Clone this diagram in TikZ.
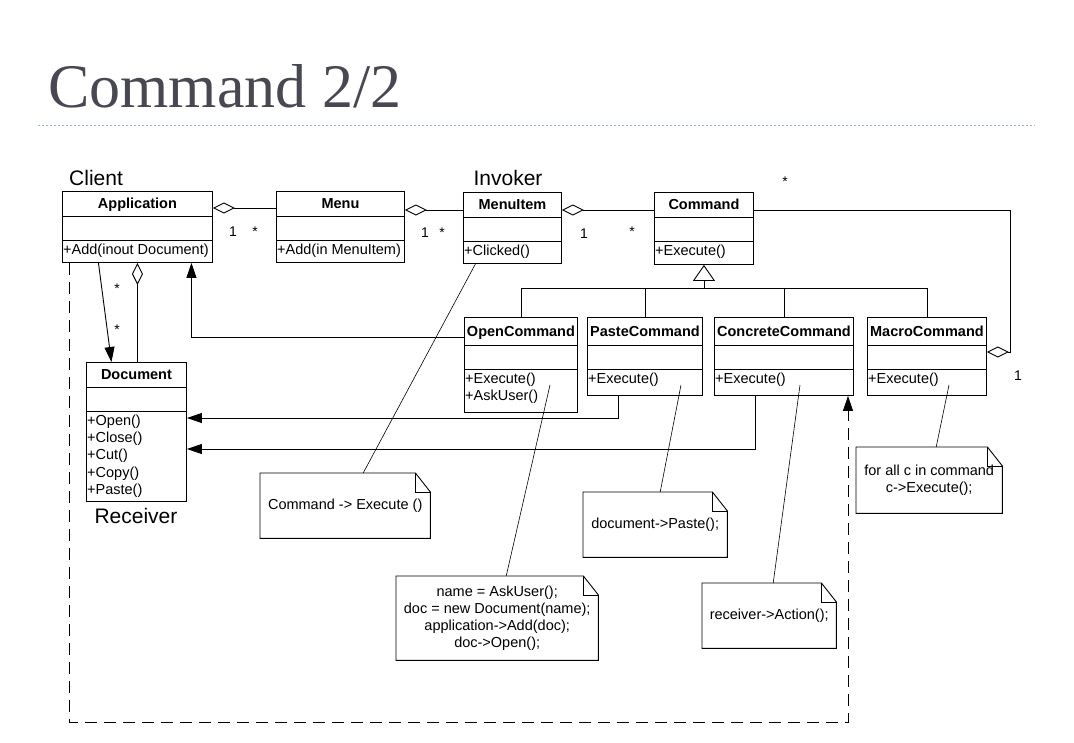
\documentclass[tikz,border=0pt]{standalone}
\usepackage{fontspec}
\setmainfont{Liberation Sans}
\newfontfamily\slidefont{Liberation Serif}
\usetikzlibrary{arrows.meta,calc,positioning}

\definecolor{titlegray}{RGB}{72,72,82}
\definecolor{rulecol}{RGB}{150,180,205}

\tikzset{
  classbox/.style={draw, line width=0.9pt, anchor=north west, inner sep=0pt},
  classname/.style={font=\fontsize{14.5}{16}\selectfont\bfseries, inner sep=0pt, anchor=base},
  classops/.style={font=\fontsize{14.5}{17.3}\selectfont, align=left, anchor=north west, inner xsep=1pt, inner ysep=3.6pt},
  notebox/.style={font=\fontsize{14.5}{17}\selectfont, align=center, anchor=north west, inner sep=0pt},
  rolelabel/.style={font=\fontsize{21}{24}\selectfont, inner sep=0pt},
  mult/.style={font=\fontsize{14}{14}\selectfont, inner sep=0pt},
  aggr/.style={line width=0.9pt, {Diamond[open, length=22pt, width=11pt]}-},
  assoc/.style={line width=0.9pt, -{Triangle[length=15pt, width=10pt]}},
  inherit/.style={line width=0.9pt, -{Triangle[open, length=16pt, width=22pt]}},
  dep/.style={assoc, dash pattern=on 12pt off 7pt},
  noteline/.style={line width=0.6pt}
}

% class box: [title height]{name}{x}{y}{width}{height}{title}{operations}
\newcommand{\umlclass}[8][25]{%
  \node[classbox, minimum width=#5pt, minimum height=#6pt] (#2) at (#3,#4) {};
  \node[classname] (#2-name) at ([yshift=-#1pt/2-5pt]#2.north) {#7};
  \draw[line width=0.9pt] ([yshift=-#1pt]#2.north west) -- ([yshift=-#1pt]#2.north east);
  \draw[line width=0.9pt] ([yshift=-#1pt-24pt]#2.north west) -- ([yshift=-#1pt-24pt]#2.north east);
  \node[classops] (#2-ops) at ([yshift=-#1pt-24pt]#2.north west) {#8};
}

% note with folded corner: {name}{x}{y}{width}{height}{text}
\newcommand{\umlnote}[6]{%
  \node[notebox, minimum width=#4pt, minimum height=#5pt] (#1) at (#2,#3) {#6};
  \draw[line width=0.9pt] (#1.north west) -- ([xshift=-15pt]#1.north east)
    -- ([yshift=-19pt]#1.north east) -- (#1.south east) -- (#1.south west) -- cycle;
  \draw[noteline] ([xshift=-15pt]#1.north east) |- ([yshift=-19pt]#1.north east);
}

\begin{document}
\begin{tikzpicture}[x=1pt, y=-1pt]
  \useasboundingbox[fill=white] (0,0) rectangle (1074,742);

  % slide title
  \node[anchor=base west, font=\slidefont\fontsize{62}{62}\selectfont, text=titlegray, inner sep=0pt] (slidetitle) at (48,107) {Command 2/2};
  \draw[rulecol, line width=0.8pt, dash pattern=on 2pt off 2pt] (38,125) -- (1035,125);

  % classes
  \umlclass{Application}{62}{191}{150}{71}{Application}{+Add(inout Document)}
  \umlclass{Menu}{276}{191}{128}{71}{Menu}{+Add(in MenuItem)}
  \umlclass{MenuItem}{463}{192}{98}{71}{MenuItem}{+Clicked()}
  \umlclass{Command}{654}{192}{99}{72}{Command}{+Execute()}
  \umlclass{Document}{86}{362}{100}{139}{Document}{+Open()\\+Close()\\+Cut()\\+Copy()\\+Paste()}
  \umlclass[28]{OpenCommand}{464}{317}{113}{95}{OpenCommand}{+Execute()\\+AskUser()}
  \umlclass[28]{PasteCommand}{587}{317}{115}{78}{PasteCommand}{+Execute()}
  \umlclass[28]{ConcreteCommand}{714}{317}{139}{78}{ConcreteCommand}{+Execute()}
  \umlclass[28]{MacroCommand}{867}{317}{119}{78}{MacroCommand}{+Execute()}

  % roles
  \node[rolelabel, anchor=west] (client) at (69,178) {Client};
  \node[rolelabel] (invoker) at (508,178) {Invoker};
  \node[rolelabel] (receiver) at (136,516) {Receiver};

  % aggregations
  \draw[aggr] ([yshift=-17pt]Application.north east) -- ([yshift=-17pt]Menu.north west);
  \draw[aggr] ([yshift=-19pt]Menu.north east) -- ([yshift=-18pt]MenuItem.north west);
  \draw[aggr] ([yshift=-18pt]MenuItem.north east) -- ([yshift=-18pt]Command.north west);
  \draw[aggr] ([yshift=-35pt]MacroCommand.north east) -- ++(24pt,0) |- ([yshift=-18pt]Command.north east);
  \draw[aggr] (Application.south) -- (Application.south |- Document.north);

  % associations
  \draw[assoc] ([xshift=-39pt]Application.south) -- ([xshift=-25pt]Document.north);
  \draw[assoc] ([yshift=-20pt]OpenCommand.north west) -| ([xshift=54pt]Application.south);
  \draw[assoc] ([xshift=-26.5pt]PasteCommand.south) |- ([yshift=-56pt]Document.north east);
  \draw[assoc] ([xshift=-28.5pt]ConcreteCommand.south) |- ([yshift=-87pt]Document.north east);
  \coordinate (loopcorner) at (848,722);
  \draw[dep] ([xshift=-68pt]Application.south) |- (loopcorner) -- (loopcorner |- ConcreteCommand.south);

  % generalization
  \coordinate (genjoin) at ([yshift=-24pt]Command.south);
  \draw[inherit] (genjoin) -- (Command.south);
  \foreach \sub in {OpenCommand,PasteCommand,ConcreteCommand,MacroCommand}
    \draw[line width=0.9pt] (\sub.north) |- (genjoin);

  % multiplicities
  \node[mult] (m1) at (233,232) {1};
  \node[mult] (m2) at (255,232) {*};
  \node[mult] (m3) at (425,233) {1};
  \node[mult] (m4) at (442,233) {*};
  \node[mult] (m5) at (584,234) {1};
  \node[mult] (m6) at (632,232) {*};
  \node[mult] (m7) at (785,182) {*};
  \node[mult] (m8) at (1018,376) {1};
  \node[mult] (m9) at (117,289) {*};
  \node[mult] (m10) at (117,330) {*};

  % notes
  \umlnote{noteMenu}{260}{473}{170}{65}{Command -> Execute ()}
  \umlnote{noteOpen}{396}{576}{202}{84}{name = AskUser();\\doc = new Document(name);\\application->Add(doc);\\doc->Open();}
  \umlnote{notePaste}{583}{492}{144}{65}{document->Paste();}
  \umlnote{noteConcrete}{702}{583}{134}{65}{receiver->Action();}
  \umlnote{noteMacro}{856}{447}{146}{66}{for all c in command\\c->Execute();}

  \draw[noteline] ([xshift=18pt]noteMenu.north) -- ([xshift=-37pt]MenuItem.south);
  \draw[noteline] ([xshift=9pt]noteOpen.north) -- ([xshift=86pt, yshift=-68pt]OpenCommand.north west);
  \draw[noteline] ([xshift=5pt]notePaste.north) -- ([xshift=94pt, yshift=-68pt]PasteCommand.north west);
  \draw[noteline] ([xshift=4pt]noteConcrete.north) -- ([xshift=86pt, yshift=-68pt]ConcreteCommand.north west);
  \draw[noteline] ([xshift=7pt]noteMacro.north) -- ([xshift=82pt, yshift=-68pt]MacroCommand.north west);
\end{tikzpicture}
\end{document}
